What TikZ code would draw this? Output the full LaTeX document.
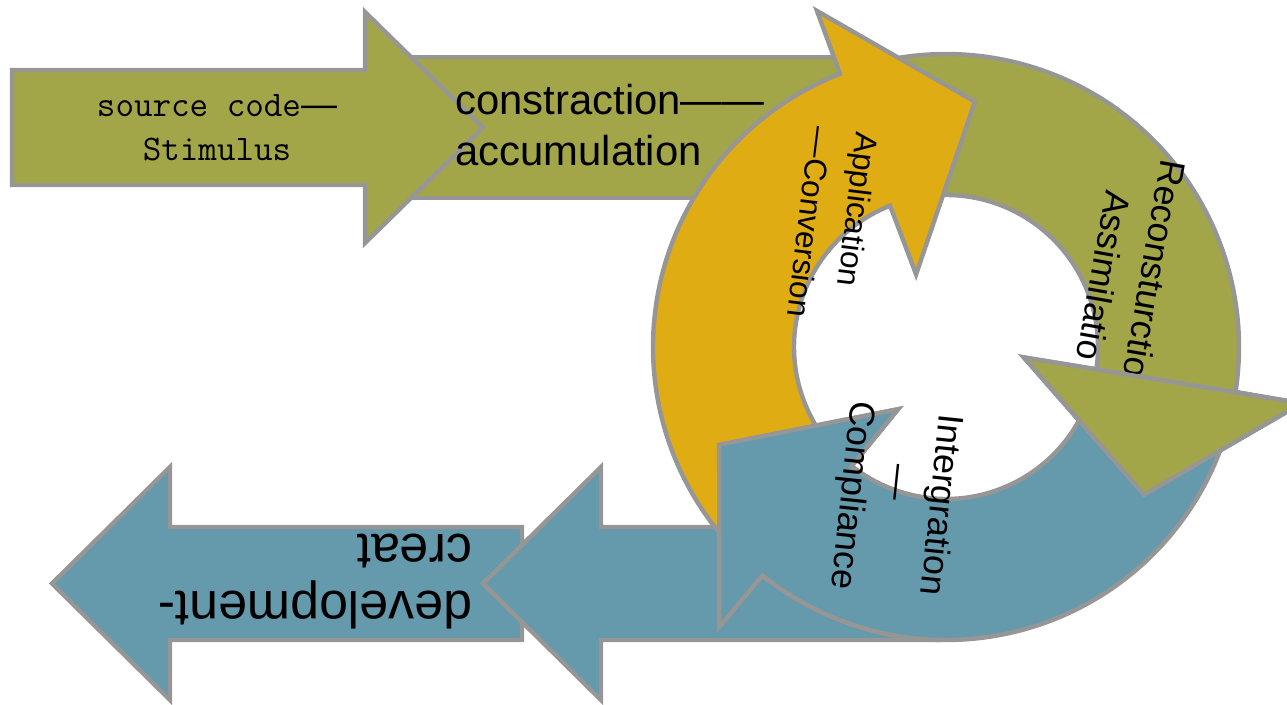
\documentclass[tikz,border=0pt]{standalone}
\usepackage{fontspec}
\setmainfont{Liberation Sans}
\definecolor{moss}{RGB}{162,166,72}
\definecolor{saffron}{RGB}{224,172,20}
\definecolor{slate}{RGB}{101,153,172}
\definecolor{ash}{RGB}{150,150,150}

\begin{document}
\begin{tikzpicture}[
    ring/.style={draw=ash, line width=2.5pt},
    txt/.style={inner sep=0pt, text=black}
  ]
  \useasboundingbox (0.00, 0.00) rectangle (25.74,-14.08);
  \coordinate (hub) at (18.92,-6.94);
  % Top row of arrows
  \draw[ring, fill=moss] (7.60,-1.14) rectangle (17.60,-3.96);
  \draw[ring, fill=moss] (0.24,-1.40) -- (7.30,-1.40) -- (7.30,-0.24) -- (9.66,-2.55)
       -- (7.30,-4.86) -- (7.30,-3.70) -- (0.24,-3.70) -- cycle;
  % Bottom row of arrows
  \draw[ring, fill=slate] (10.44,-10.54) -- (3.40,-10.54) -- (3.40,-9.34) -- (1.04,-11.67)
       -- (3.40,-14.00) -- (3.40,-12.80) -- (10.44,-12.80) -- cycle;
  \draw[ring, fill=slate] (18.80,-10.54) -- (12.02,-10.54) -- (12.02,-9.34) -- (9.66,-11.67)
       -- (12.02,-14.00) -- (12.02,-12.80) -- (18.80,-12.80) -- cycle;
  % Cycle
  \begin{scope}[shift={(hub)}]
    \draw[ring, fill=slate] (-15:5.86) arc[start angle=-15, end angle=-128.8, radius=5.86]
         -- (-129:7.20) -- (-156.7:4.94) -- (-127.6:1.57) -- (-128.4:3.04)
         arc[start angle=-128.4, end angle=-15, radius=3.04] -- cycle;
    \draw[ring, fill=moss] (105:5.86) arc[start angle=105, end angle=-8.8, radius=5.86]
         -- (-9:7.20) -- (-36.7:4.94) -- (-7.6:1.57) -- (-8.4:3.04)
         arc[start angle=-8.4, end angle=105, radius=3.04] -- cycle;
    \draw[ring, fill=saffron] (225:5.86) arc[start angle=225, end angle=111.2, radius=5.86]
         -- (111:7.20) -- (83.3:4.94) -- (112.4:1.57) -- (111.6:3.04)
         arc[start angle=111.6, end angle=225, radius=3.04] -- cycle;
    % blue head back over the yellow tail
    \begin{scope}
      \clip (-5.20,-0.60) rectangle (-0.30,-7.50);
      \draw[ring, fill=slate] (-15:5.86) arc[start angle=-15, end angle=-128.8, radius=5.86]
           -- (-129:7.20) -- (-156.7:4.94) -- (-127.6:1.57) -- (-128.4:3.04)
           arc[start angle=-128.4, end angle=-15, radius=3.04] -- cycle;
    \end{scope}
  \end{scope}
  % Texts
  \node[txt, font=\ttfamily\fontsize{20.5}{25}\selectfont, align=center] (stimulus) at (4.34,-2.56)
       {source code{\rmfamily —}\\Stimulus};
  \node[txt, font=\fontsize{23.8}{29.5}\selectfont, align=left, anchor=west] (accumulation) at (9.10,-2.50)
       {constraction——\\accumulation};
  \node[txt, font=\fontsize{18}{26.5}\selectfont, align=left, rotate=-97] (conversion) at (16.66,-4.50)
       {Application\\—Conversion};
  \node[txt, font=\fontsize{20.4}{24}\selectfont, rotate=-100] (reconstruction) at (23.10,-5.38)
       {Reconsturctio};
  \node[txt, font=\fontsize{20.4}{24}\selectfont, rotate=-100] (assimilation) at (22.08,-5.52)
       {Assimilatio};
  \node[txt, font=\fontsize{20.4}{25.5}\selectfont, align=center, rotate=-96] (compliance) at (17.90,-10.00)
       {Intergration\\—\hphantom{—}\\Compliance};
  \node[txt, font=\fontsize{29.5}{32.3}\selectfont, align=left, rotate=180] (creat) at (6.30,-11.63)
       {development-\\creat};
  % Green head on top of its text
  \begin{scope}[shift={(hub)}]
    \draw[ring, fill=moss] (-9:7.20) -- (-36.7:4.94) -- (-7.6:1.57) -- cycle;
  \end{scope}
\end{tikzpicture}
\end{document}
